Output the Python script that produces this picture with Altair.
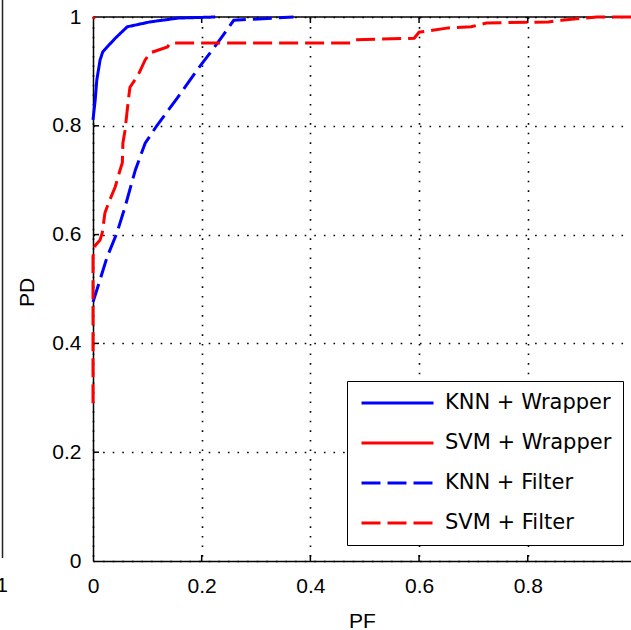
import altair as alt
import pandas as pd

# ---- data ----
series_names = ["KNN + Wrapper", "SVM + Wrapper", "KNN + Filter", "SVM + Filter"]
series_colors = ["#0000ff", "#ff0000", "#0000ff", "#ff0000"]
series_dash = [[1, 0], [1, 0], [19, 7], [19, 7]]

pf_knn_wrapper = [0, 0.004, 0.007, 0.013, 0.018, 0.040, 0.063, 0.105, 0.157, 0.225]
pd_knn_wrapper = [0.811, 0.847, 0.884, 0.921, 0.936, 0.960, 0.982, 0.991, 0.998, 1.0]

pf_svm_wrapper = [0, 0.003]
pd_svm_wrapper = [0.997, 1.0]

pf_knn_filter = [0, 0.013, 0.026, 0.044, 0.059, 0.078, 0.096, 0.118, 0.155, 0.192, 0.229, 0.259, 0.369]
pd_knn_filter = [0.476, 0.517, 0.559, 0.603, 0.651, 0.719, 0.768, 0.801, 0.851, 0.903, 0.952, 0.994, 1.0]

pf_svm_filter = [0, 0, 0.004, 0.013, 0.017, 0.022, 0.031, 0.041, 0.046, 0.054, 0.055, 0.059,
                 0.065, 0.068, 0.083, 0.096, 0.105, 0.137, 0.142, 0.475, 0.484, 0.591, 0.600,
                 0.654, 0.696, 0.724, 0.838, 0.862, 0.927, 1.0]
pd_svm_filter = [0.29, 0.56, 0.58, 0.59, 0.603, 0.64, 0.664, 0.688, 0.706, 0.732, 0.768, 0.792,
                 0.847, 0.871, 0.893, 0.921, 0.934, 0.945, 0.952, 0.952, 0.958, 0.961, 0.972,
                 0.980, 0.982, 0.989, 0.991, 0.994, 1.0, 1.0]

x_tick_values = [0, 0.2, 0.4, 0.6, 0.8]
y_tick_values = [0, 0.2, 0.4, 0.6, 0.8, 1.0]
inner_x_ticks = [0.2, 0.4, 0.6, 0.8]
inner_y_ticks = [0.2, 0.4, 0.6, 0.8]

# ---- build table ----
rows = []
for name, xs, ys in [
    (series_names[0], pf_knn_wrapper, pd_knn_wrapper),
    (series_names[1], pf_svm_wrapper, pd_svm_wrapper),
    (series_names[2], pf_knn_filter, pd_knn_filter),
    (series_names[3], pf_svm_filter, pd_svm_filter),
]:
    for i, (x, y) in enumerate(zip(xs, ys)):
        rows.append({"series": name, "PF": x, "PD": y, "idx": i})
df = pd.DataFrame(rows)

W, H = 538, 544
FONT = "Liberation Sans"

xscale = alt.Scale(domain=[0, 0.99], nice=False, zero=False)
yscale = alt.Scale(domain=[0, 1], nice=False, zero=False)

legend = alt.Legend(
    title=None, orient="none", legendX=254, legendY=364,
    symbolType="stroke", symbolSize=5184, symbolStrokeWidth=3,
    clipHeight=22, rowPadding=18, padding=11, symbolOffset=2, labelOffset=10,
    labelFont="DejaVu Sans", labelFontSize=21, labelColor="black", labelLimit=400,
    strokeColor="black", fillColor="white",
)

lines = alt.Chart(df).mark_line(strokeWidth=3).encode(
    x=alt.X("PF:Q", scale=xscale, axis=alt.Axis(
        values=x_tick_values, format="~g", title="PF", grid=True, ticks=False,
        labelFlush=False, labelPadding=14, titleY=66, titleBaseline="alphabetic")),
    y=alt.Y("PD:Q", scale=yscale, axis=alt.Axis(
        values=y_tick_values, format="~g", title="PD", grid=True, ticks=False,
        labelFlush=False, labelPadding=12, titleX=-60, titleY=275,
        titleBaseline="alphabetic", titleAngle=270)),
    color=alt.Color("series:N", scale=alt.Scale(domain=series_names, range=series_colors), legend=legend),
    strokeDash=alt.StrokeDash("series:N", scale=alt.Scale(domain=series_names, range=series_dash), legend=legend),
    order=alt.Order("idx:Q"),
)

tx = pd.DataFrame({"PF": inner_x_ticks})
ty = pd.DataFrame({"PD": inner_y_ticks})
one = pd.DataFrame({"a": [0]})

bottom_ticks = alt.Chart(tx).mark_rule(color="black", strokeWidth=1.5).encode(
    x=alt.X("PF:Q", scale=xscale), y=alt.value(H), y2=alt.value(H - 6))
top_ticks = alt.Chart(tx).mark_rule(color="black", strokeWidth=1.5).encode(
    x=alt.X("PF:Q", scale=xscale), y=alt.value(0), y2=alt.value(6))
left_ticks = alt.Chart(ty).mark_rule(color="black", strokeWidth=1.5).encode(
    y=alt.Y("PD:Q", scale=yscale), x=alt.value(0), x2=alt.value(6))
top_border = alt.Chart(one).mark_rule(color="black", strokeWidth=1.5).encode(
    x=alt.value(0), x2=alt.value(W), y=alt.value(0))

# edge of the neighbouring panel, cropped at the left
neighbor_edge = alt.Chart(one).mark_rule(color="#222222", strokeWidth=1.5).encode(
    x=alt.value(-90.5), y=alt.value(-17), y2=alt.value(H - 3))
neighbor_label = alt.Chart(one).mark_text(
    text="1", font=FONT, fontSize=21, align="center", baseline="alphabetic", color="black"
).encode(x=alt.value(-91), y=alt.value(575))

chart = alt.layer(
    top_border, top_ticks, bottom_ticks, left_ticks, lines, neighbor_edge, neighbor_label
).properties(
    width=W, height=H,
    autosize=alt.AutoSizeParams(type="none"),
    padding={"left": 93, "top": 17, "right": 0, "bottom": 69},
    background="white",
).configure_view(
    stroke="transparent"
).configure_axis(
    domainColor="black", domainWidth=1.5,
    gridColor="black", gridWidth=1.6, gridDash=[1.6, 8], gridOpacity=1,
    labelFont=FONT, labelFontSize=21, labelColor="black",
    titleFont=FONT, titleFontSize=21, titleColor="black", titleFontWeight="normal",
)

chart.save("out.html", embed_options={"renderer": "svg", "actions": False})
